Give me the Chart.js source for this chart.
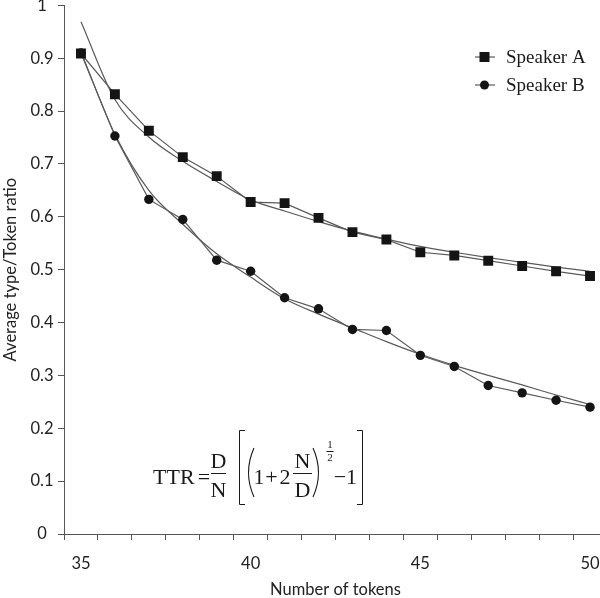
<!DOCTYPE html>
<html>
<head>
<meta charset="utf-8">
<script src="https://cdn.jsdelivr.net/npm/chart.js@4/dist/chart.umd.min.js"></script>
<style>
  html, body { margin: 0; padding: 0; background: #fff; overflow: hidden; }
  #wrap { position: relative; width: 600px; height: 598px; overflow: hidden; }
  #chart { position: absolute; left: 0; top: -9px; }
</style>
</head>
<body>
<div id="wrap"><canvas id="chart" width="614" height="607"></canvas></div>
<script>
// Number of tokens (category axis)
const tokens = ['35', '36', '37', '38', '39', '40', '41', '42', '43', '44', '45', '46', '47', '48', '49', '50'];
const tickLabelsX = ['35', '40', '45', '50'];

// Average type/token ratio, observed
const speakerA = [0.909, 0.832, 0.763, 0.713, 0.677, 0.628, 0.626, 0.598, 0.571, 0.557, 0.533, 0.527, 0.517, 0.507, 0.497, 0.488];
const speakerB = [0.910, 0.753, 0.633, 0.595, 0.518, 0.497, 0.447, 0.426, 0.387, 0.385, 0.338, 0.317, 0.281, 0.267, 0.253, 0.240];

// Fitted curves
const fitA = [0.969, 0.822, 0.751, 0.705, 0.667, 0.632, 0.611, 0.591, 0.573, 0.558, 0.544, 0.533, 0.523, 0.514, 0.505, 0.497];
const fitB = [0.912, 0.756, 0.650, 0.586, 0.530, 0.486, 0.445, 0.416, 0.390, 0.364, 0.340, 0.319, 0.300, 0.282, 0.263, 0.245];

const lineGrey = '#5a5a5a';
const markerBlack = '#141414';
const axisGrey = '#555555';
const textColor = '#222222';
const sansFont = 'Lato, "Open Sans", sans-serif';
const serifFont = '"Liberation Serif", "DejaVu Serif", serif';

// Legend and formula drawn inside the plot (canvas is shifted 9px up)
const overlayPlugin = {
  id: 'overlay',
  afterDraw(chart) {
    const ctx = chart.ctx;
    ctx.save();
    ctx.translate(0, 9);

    // legend
    const legendItems = [
      { label: 'Speaker A', style: 'rect', y: 57 },
      { label: 'Speaker B', style: 'circle', y: 85 }
    ];
    legendItems.forEach(item => {
      ctx.strokeStyle = lineGrey;
      ctx.lineWidth = 1.2;
      ctx.beginPath();
      ctx.moveTo(475, item.y);
      ctx.lineTo(495, item.y);
      ctx.stroke();
      ctx.fillStyle = markerBlack;
      if (item.style === 'rect') {
        ctx.fillRect(479.5, item.y - 5, 10, 10);
      } else {
        ctx.beginPath();
        ctx.arc(484.5, item.y, 4.5, 0, Math.PI * 2);
        ctx.fill();
      }
      ctx.fillStyle = '#1a1a1a';
      ctx.font = '19px ' + serifFont;
      ctx.textAlign = 'left';
      ctx.textBaseline = 'middle';
      ctx.fillText(item.label, 506, item.y + 1);
    });

    // formula: TTR = D/N [ (1 + 2 N/D)^(1/2) - 1 ]
    ctx.fillStyle = '#1a1a1a';
    ctx.strokeStyle = '#1a1a1a';
    ctx.textBaseline = 'alphabetic';
    ctx.font = '22px ' + serifFont;
    ctx.textAlign = 'left';
    ctx.fillText('TTR', 153, 484);
    ctx.textAlign = 'center';
    const glyphs = [
      ['=', 204, 484], ['D', 218.5, 468], ['N', 218.5, 497],
      ['1', 259, 484], ['+', 271.5, 484], ['2', 285, 484],
      ['N', 302.5, 468], ['D', 302.5, 497],
      ['\u2212', 340, 484], ['1', 351.5, 484]
    ];
    glyphs.forEach(g => ctx.fillText(g[0], g[1], g[2]));

    ctx.font = '11px ' + serifFont;
    ctx.fillText('1', 330, 448);
    ctx.fillText('2', 330, 461);

    ctx.lineWidth = 1;
    ctx.beginPath();
    // fraction bars
    ctx.moveTo(211, 473.5); ctx.lineTo(226, 473.5);
    ctx.moveTo(293, 473.5); ctx.lineTo(312, 473.5);
    ctx.moveTo(326.5, 451.5); ctx.lineTo(333.5, 451.5);
    // square brackets
    ctx.moveTo(245, 430.5); ctx.lineTo(239.5, 430.5); ctx.lineTo(239.5, 504.5); ctx.lineTo(245, 504.5);
    ctx.moveTo(357, 430.5); ctx.lineTo(362.5, 430.5); ctx.lineTo(362.5, 504.5); ctx.lineTo(357, 504.5);
    ctx.stroke();
    // parentheses
    ctx.lineWidth = 1.1;
    ctx.beginPath();
    ctx.moveTo(254, 448); ctx.quadraticCurveTo(243, 472.5, 254, 497);
    ctx.moveTo(313, 448); ctx.quadraticCurveTo(324, 472.5, 313, 497);
    ctx.stroke();

    ctx.restore();
  }
};

new Chart(document.getElementById('chart'), {
  type: 'line',
  data: {
    labels: tokens,
    datasets: [
      {
        label: 'Speaker A',
        data: speakerA,
        borderColor: lineGrey,
        borderWidth: 1.2,
        pointStyle: 'rect',
        pointRadius: 7,
        pointBackgroundColor: markerBlack,
        pointBorderColor: markerBlack,
        pointBorderWidth: 0,
        tension: 0
      },
      {
        label: 'Speaker B',
        data: speakerB,
        borderColor: lineGrey,
        borderWidth: 1.2,
        pointStyle: 'circle',
        pointRadius: 4.7,
        pointBackgroundColor: markerBlack,
        pointBorderColor: markerBlack,
        pointBorderWidth: 0,
        tension: 0
      },
      {
        label: 'Fit A',
        data: fitA,
        borderColor: lineGrey,
        borderWidth: 1.2,
        pointRadius: 0,
        cubicInterpolationMode: 'monotone'
      },
      {
        label: 'Fit B',
        data: fitB,
        borderColor: lineGrey,
        borderWidth: 1.2,
        pointRadius: 0,
        cubicInterpolationMode: 'monotone'
      }
    ]
  },
  options: {
    responsive: false,
    animation: false,
    devicePixelRatio: 1,
    layout: { padding: 0 },
    plugins: {
      legend: { display: false },
      tooltip: { enabled: false }
    },
    scales: {
      x: {
        type: 'category',
        offset: true,
        afterFit: scale => {
          scale.height = 64;
          scale.paddingLeft = 0;
          scale.paddingRight = 0;
        },
        grid: {
          offset: true,
          drawOnChartArea: false,
          tickLength: 6,
          color: axisGrey
        },
        border: { color: axisGrey, width: 1 },
        ticks: {
          autoSkip: false,
          maxRotation: 0,
          padding: 14,
          color: textColor,
          font: { family: sansFont, size: 16.5 },
          callback: function(value) {
            const lbl = this.getLabelForValue(value);
            return tickLabelsX.includes(lbl) ? lbl : '';
          }
        },
        title: {
          display: true,
          text: 'Number of tokens',
          color: textColor,
          font: { family: sansFont, size: 16.5 },
          padding: { top: 0, bottom: -2 }
        }
      },
      y: {
        min: 0,
        max: 1,
        afterFit: scale => { scale.width = 64; },
        grid: {
          drawOnChartArea: false,
          tickLength: 6,
          color: axisGrey
        },
        border: { color: axisGrey, width: 1 },
        ticks: {
          stepSize: 0.1,
          padding: 4.5,
          crossAlign: 'center',
          color: textColor,
          font: { family: sansFont, size: 16.5 },
          callback: v => Number(v.toFixed(1)).toString()
        },
        title: {
          display: true,
          text: 'Average type/Token ratio',
          color: textColor,
          font: { family: sansFont, size: 16.5 },
          padding: { top: 1, bottom: 0 }
        }
      }
    }
  },
  plugins: [overlayPlugin]
});
</script>
</body>
</html>
